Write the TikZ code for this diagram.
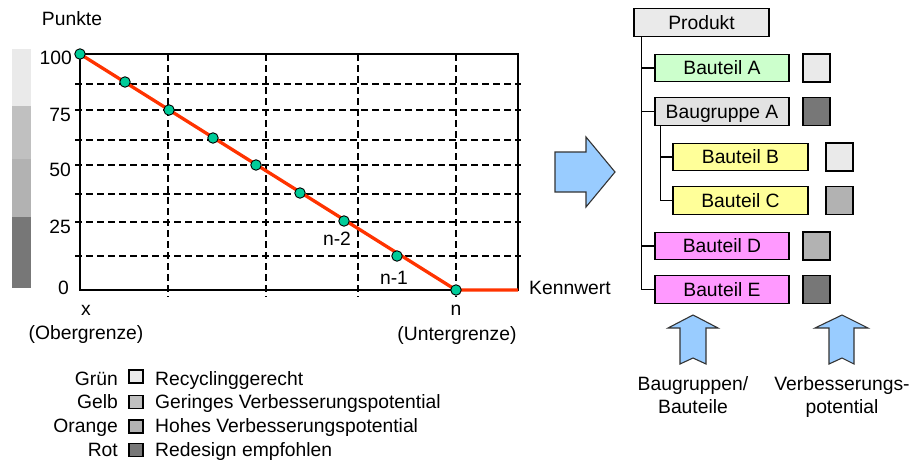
\documentclass[tikz,border=0pt]{standalone}
\usepackage{fontspec}
\setmainfont{Liberation Sans}
\definecolor{lgray}{HTML}{EAEAEA}
\definecolor{mgray}{HTML}{C0C0C0}
\definecolor{ogray}{HTML}{B2B2B2}
\definecolor{dgray}{HTML}{777777}
\definecolor{groupgray}{HTML}{E2E2E2}
\definecolor{curvered}{HTML}{FF3300}
\definecolor{dotgreen}{HTML}{00CC99}
\definecolor{arrowblue}{HTML}{99CCFF}
\definecolor{partgreen}{HTML}{CCFFCC}
\definecolor{partyellow}{HTML}{FFFF99}
\definecolor{partpink}{HTML}{FF99FF}

\begin{document}
\begin{tikzpicture}[x=1pt,y=-1pt,
  every node/.style={font=\fontsize{19.3}{23}\selectfont, inner sep=0pt,
    text height=13.8pt, text depth=0pt},
  gridline/.style={dash pattern=on 7pt off 4pt, line width=1.8pt},
  axisline/.style={line width=1.8pt},
  curve/.style={draw=curvered, line width=3.3pt},
  dot/.style={circle, draw=black, line width=0.9pt, fill=dotgreen, minimum size=10.5pt, text height=0pt},
  part/.style={draw=black, line width=1.4pt, minimum height=27.5pt, minimum width=134pt},
  swatch/.style={draw=black, line width=1.4pt, minimum width=27pt, minimum height=28pt, text height=0pt},
  legsq/.style={draw=black, line width=1.1pt, minimum width=14pt, minimum height=13pt, text height=0pt},
  tree/.style={line width=1.3pt},
  bigarrow/.style={draw=black!80, line width=1.1pt, fill=arrowblue, line join=miter}
]
\useasboundingbox (0,0) rectangle (912,463);

% ---------- colour scale beside the axis ----------
\fill[lgray] (12,49) rectangle (31,106);
\fill[mgray] (12,106) rectangle (31,159);
\fill[ogray] (12,159) rectangle (31,217);
\fill[dgray] (12,217) rectangle (31,288);

% ---------- grid ----------
\foreach \gx in {168,266,358,456}
  \draw[gridline] (\gx,54) -- (\gx,297);
\foreach \gy in {84,110,140,165,194,222,256}
  \draw[gridline] (75,\gy) -- (521,\gy);

% ---------- frame / axes ----------
\draw[axisline] (80,54) -- (518,54) -- (518,290) -- (80,290) -- cycle;

% ---------- axis texts ----------
\node (ylab) at (72,19) {Punkte};
\node[anchor=east] (t100) at (72,58) {100};
\node[anchor=east] (t75) at (71,115) {75};
\node[anchor=east] (t50) at (71,170) {50};
\node[anchor=east] (t25) at (71,227) {25};
\node[anchor=east] (t0) at (69,288) {0};

\node[anchor=base] (xl) at (86,315) {x};
\node (xlo) at (86,333) {(Obergrenze)};
\node[anchor=base] (nl) at (456,315) {n};
\node (nlo) at (457,334) {(Untergrenze)};
\node[anchor=west] (kw) at (529,288) {Kennwert};

% ---------- evaluation curve ----------
\coordinate (c0) at (80,54);
\coordinate (c1) at (125,82);
\coordinate (c2) at (169,110);
\coordinate (c3) at (213,138);
\coordinate (c4) at (256,165);
\coordinate (c5) at (300,193);
\coordinate (c6) at (344,221);
\coordinate (c7) at (397,256);
\coordinate (c8) at (456,290);
\coordinate (kend) at (518,290);
\draw[curve] (c0) -- (c8) -- (kend);
\foreach \i in {0,...,8}
  \node[dot] (p\i) at (c\i) {};

\node (n2) at (337,239) {n-2};
\node (n1) at (394,277.5) {n-1};

% ---------- legend ----------
\node[anchor=east] (lg1) at (118,378.5) {Grün};
\node[anchor=east] (lg2) at (118,402) {Gelb};
\node[anchor=east] (lg3) at (118,425.5) {Orange};
\node[anchor=east] (lg4) at (118,449.5) {Rot};
\node[legsq, fill=lgray] (q1) at (136,376.5) {};
\node[legsq, fill=mgray] (q2) at (136,402) {};
\node[legsq, fill=ogray] (q3) at (136,426.5) {};
\node[legsq, fill=dgray] (q4) at (136,450) {};
\node[anchor=west] (lt1) at (155,378.5) {Recyclinggerecht};
\node[anchor=west] (lt2) at (155,402) {Geringes Verbesserungspotential};
\node[anchor=west] (lt3) at (155,425.5) {Hohes Verbesserungspotential};
\node[anchor=west] (lt4) at (155,449.5) {Redesign empfohlen};

% ---------- transition arrow ----------
\draw[bigarrow] (555,152) -- (586,152) -- (586,137) -- (615,172)
  -- (586,207) -- (586,192) -- (555,192) -- cycle;

% ---------- product structure ----------
\node[part, fill=lgray, minimum width=135pt] (prod) at (701.5,22.5) {Produkt};
\node[part, fill=partgreen] (bA) at (722,68) {Bauteil A};
\node[part, fill=groupgray] (gA) at (722,111.5) {Baugruppe A};
\node[part, fill=partyellow, minimum width=135pt] (bB) at (740.5,157) {Bauteil B};
\node[part, fill=partyellow, minimum width=135pt] (bC) at (740.5,200.5) {Bauteil C};
\node[part, fill=partpink] (bD) at (722,246) {Bauteil D};
\node[part, fill=partpink] (bE) at (722,289.5) {Bauteil E};

\node[swatch, fill=lgray] (sA) at (816.5,68) {};
\node[swatch, fill=dgray] (sG) at (816.5,111.5) {};
\node[swatch, fill=lgray] (sB) at (839.5,157) {};
\node[swatch, fill=ogray] (sC) at (839.5,200.5) {};
\node[swatch, fill=ogray] (sD) at (816.5,246) {};
\node[swatch, fill=dgray] (sE) at (816.5,289.5) {};

\coordinate (t1) at ([xshift=8pt]prod.south west);
\coordinate (t2) at ([xshift=6pt]gA.south west);
\draw[tree] (t1) |- (bE.west);
\draw[tree] (t1 |- bA.west) -- (bA.west);
\draw[tree] (t1 |- gA.west) -- (gA.west);
\draw[tree] (t1 |- bD.west) -- (bD.west);
\draw[tree] (t2) |- (bC.west);
\draw[tree] (t2 |- bB.west) -- (bB.west);

% ---------- column arrows ----------
\draw[bigarrow] (680,364) -- (680,328) -- (668,328) -- (693,315) -- (718,328)
  -- (706,328) -- (706,364) -- (693,358) -- cycle;
\draw[bigarrow] (829,364) -- (829,328) -- (815,328) -- (842,315) -- (868,328)
  -- (854,328) -- (854,364) -- (842,358) -- cycle;

\node (c1a) at (693,384) {Baugruppen/};
\node (c1b) at (693,407) {Bauteile};
\node (c2a) at (842,384) {Verbesserungs-};
\node (c2b) at (842,407) {potential};
\end{tikzpicture}
\end{document}
